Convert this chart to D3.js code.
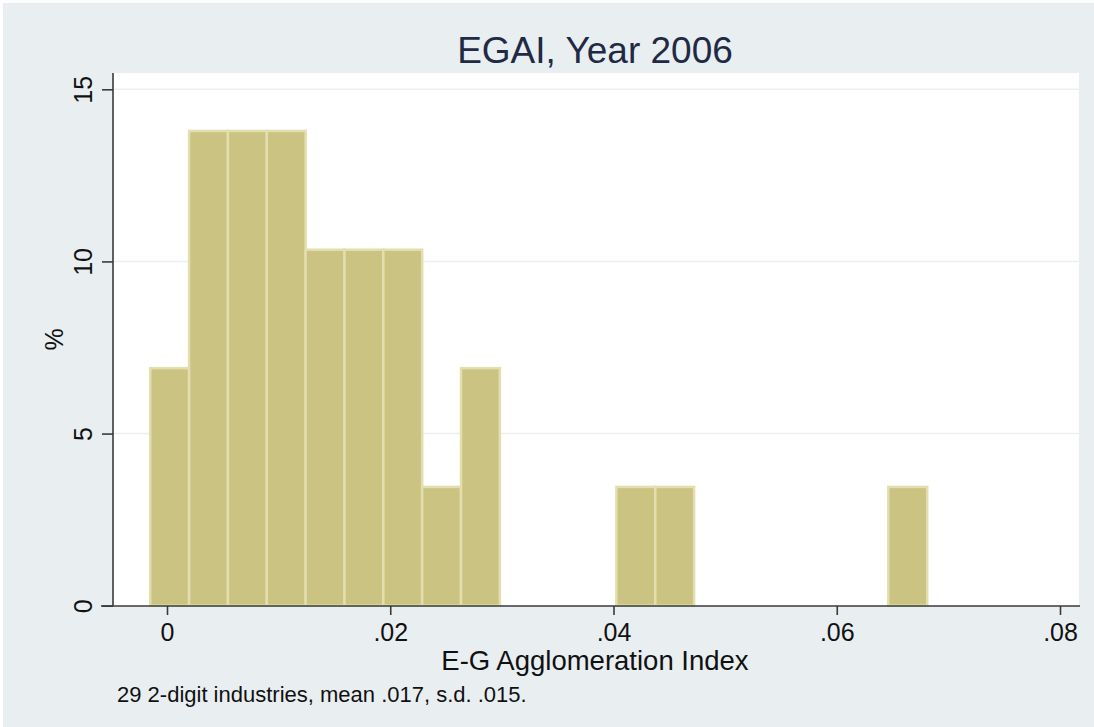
<!DOCTYPE html>
<html>
<head>
<meta charset="utf-8">
<script src="https://cdn.jsdelivr.net/npm/d3@7"></script>
<style>
  body { margin: 0; background: #fff; }
  svg text { font-family: "Liberation Sans", Arial, sans-serif; }
</style>
</head>
<body>
<div id="chart"></div>
<script>
// histogram bars (left edge of each bin, % of industries)
const binStarts = [-0.0015, 0.00198, 0.00546, 0.00894, 0.01242, 0.0159, 0.01938, 0.02286, 0.02634, 0.04026, 0.04374, 0.06462];
const binWidth = 0.00348;
const percents = [6.9, 13.79, 13.79, 13.79, 10.34, 10.34, 10.34, 3.45, 6.9, 3.45, 3.45, 3.45];

const xTicks = [0, 0.02, 0.04, 0.06, 0.08];
const xTickLabels = ["0", ".02", ".04", ".06", ".08"];
const yTicks = [0, 5, 10, 15];

const title = "EGAI, Year 2006";
const xTitle = "E-G Agglomeration Index";
const yTitle = "%";
const note = "29 2-digit industries, mean .017, s.d. .015.";

document.addEventListener('DOMContentLoaded', function () {
    const width = 1094;
    const height = 727;
    const plot = { left: 113, right: 1079, top: 73, bottom: 606 };

    const svg = d3.select("#chart")
        .append("svg")
        .attr("width", width)
        .attr("height", height);

    // graph region + plot region
    svg.append("rect")
        .attr("x", 3).attr("y", 3)
        .attr("width", width - 3).attr("height", height - 3)
        .attr("fill", "#e9eef1");

    svg.append("rect")
        .attr("x", plot.left).attr("y", plot.top)
        .attr("width", plot.right - plot.left).attr("height", plot.bottom - plot.top)
        .attr("fill", "#ffffff");

    const x = d3.scaleLinear()
        .domain([0, 0.08])
        .range([167, 1060]);

    const y = d3.scaleLinear()
        .domain([0, 15])
        .range([605.7, 89.3]);

    // grid lines
    svg.append("g")
        .selectAll("line")
        .data(yTicks.filter(d => d > 0))
        .enter().append("line")
        .attr("x1", plot.left)
        .attr("x2", plot.right)
        .attr("y1", d => y(d))
        .attr("y2", d => y(d))
        .attr("stroke", "#eceff1")
        .attr("stroke-width", 1.5);

    // bars
    const bars = binStarts.map((s, i) => ({ x0: s, x1: s + binWidth, value: percents[i] }));

    svg.append("g")
        .selectAll("rect")
        .data(bars)
        .enter().append("rect")
        .attr("x", d => x(d.x0))
        .attr("width", d => x(d.x1) - x(d.x0))
        .attr("y", d => y(d.value))
        .attr("height", d => y(0) - y(d.value))
        .attr("fill", "#cac382")
        .attr("stroke", "#e2dead")
        .attr("stroke-width", 2.5);

    // x axis
    const xAxis = g => g
        .attr("transform", `translate(0,${plot.bottom})`)
        .call(d3.axisBottom(x).tickValues(xTicks)
            .tickFormat((d, i) => xTickLabels[i])
            .tickSize(9).tickPadding(8).tickSizeOuter(0));

    const gx = svg.append("g").call(xAxis);
    gx.select(".domain").remove();
    gx.append("line")
        .attr("x1", 101).attr("x2", 1080)
        .attr("stroke", "#3a3a3a").attr("stroke-width", 1.6);
    gx.selectAll(".tick line").attr("stroke", "#3a3a3a").attr("stroke-width", 1.6);
    gx.selectAll(".tick text")
        .attr("fill", "#111")
        .style("font-size", "25px");

    // y axis
    const yAxis = g => g
        .attr("transform", `translate(${plot.left},0)`)
        .call(d3.axisLeft(y).tickValues(yTicks).tickSize(11).tickSizeOuter(0));

    const gy = svg.append("g").call(yAxis);
    gy.select(".domain").remove();
    gy.append("line")
        .attr("y1", plot.top).attr("y2", plot.bottom)
        .attr("stroke", "#3a3a3a").attr("stroke-width", 1.6);
    gy.selectAll(".tick line").attr("stroke", "#3a3a3a").attr("stroke-width", 1.6);
    gy.selectAll(".tick text")
        .attr("fill", "#111")
        .attr("x", 0).attr("dy", 0)
        .attr("transform", "translate(-21,0) rotate(-90)")
        .attr("text-anchor", "middle")
        .style("font-size", "25px");

    // titles
    svg.append("text")
        .attr("x", 595).attr("y", 63)
        .attr("text-anchor", "middle")
        .attr("fill", "#1f2a44")
        .style("font-size", "37px")
        .text(title);

    svg.append("text")
        .attr("x", 595).attr("y", 670)
        .attr("text-anchor", "middle")
        .attr("fill", "#111")
        .style("font-size", "27.5px")
        .text(xTitle);

    svg.append("text")
        .attr("transform", `translate(63,${(plot.top + plot.bottom) / 2}) rotate(-90)`)
        .attr("text-anchor", "middle")
        .attr("fill", "#111")
        .style("font-size", "25px")
        .text(yTitle);

    svg.append("text")
        .attr("x", 117).attr("y", 702)
        .attr("fill", "#111")
        .style("font-size", "22px")
        .text(note);
});
</script>
</body>
</html>
